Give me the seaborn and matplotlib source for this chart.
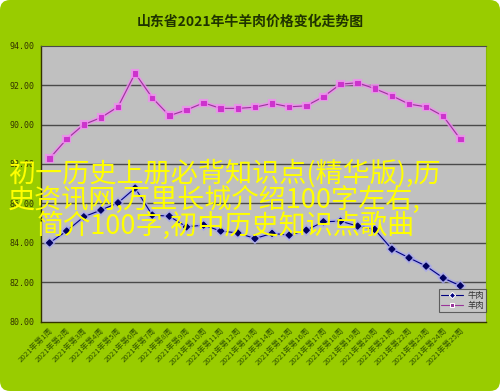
import matplotlib
matplotlib.use('Agg')
import matplotlib.pyplot as plt
import numpy as np
import pandas as pd
import seaborn as sns
from matplotlib import patheffects as pe
from matplotlib.patches import FancyBboxPatch

# ---- data ----
weeks = ["2021年第1周", "2021年第2周", "2021年第3周", "2021年第4周", "2021年第5周",
         "2021年第6周", "2021年第7周", "2021年第8周", "2021年第9周", "2021年第10周",
         "2021年第11周", "2021年第12周", "2021年第13周", "2021年第14周", "2021年第15周",
         "2021年第16周", "2021年第17周", "2021年第18周", "2021年第19周", "2021年第20周",
         "2021年第21周", "2021年第22周", "2021年第23周", "2021年第24周", "2021年第25周"]
beef = [84.00, 84.60, 85.32, 85.66, 86.03, 86.78, 85.41, 85.35, 84.81, 84.90,
        84.60, 84.50, 84.22, 84.48, 84.39, 84.64, 85.07, 85.10, 84.85, 84.68,
        83.68, 83.24, 82.82, 82.22, 81.82]
mutton = [88.28, 89.26, 90.00, 90.35, 90.90, 92.60, 91.36, 90.45, 90.74, 91.10,
          90.82, 90.82, 90.88, 91.07, 90.90, 90.95, 91.41, 92.05, 92.12, 91.82,
          91.46, 91.04, 90.90, 90.43, 89.26]
series_names = ["牛肉", "羊肉"]
yticks = [80, 82, 84, 86, 88, 90, 92, 94]
title = "山东省2021年牛羊肉价格变化走势图"
overlay_lines = ["初一历史上册必背知识点(精华版),历",
                 "史资讯网,万里长城介绍100字左右,",
                 "简介100字,初中历史知识点歌曲"]

df = pd.DataFrame({
    "idx": list(range(len(weeks))) * 2,
    "price": beef + mutton,
    "kind": [series_names[0]] * len(beef) + [series_names[1]] * len(mutton),
})

sns.set_style("white")
plt.rcParams['font.family'] = ['Noto Sans CJK SC', 'DejaVu Sans']

W, H = 500, 391
fig = plt.figure(figsize=(W / 100, H / 100), dpi=100)
fig.patch.set_facecolor("white")
bg = FancyBboxPatch((0, 0), 1, 1, boxstyle="round,pad=0,rounding_size=0.02",
                    transform=fig.transFigure, facecolor="#99cc00", edgecolor="none",
                    mutation_aspect=W / H, zorder=-10)
fig.patches.append(bg)

ax = fig.add_axes([41 / W, 1 - 321.7 / H, (486 - 41) / W, (321.7 - 45.7) / H])
ax.set_facecolor("#c0c0c0")

palette = {series_names[0]: "#000080", series_names[1]: "#993399"}
markers = {series_names[0]: "D", series_names[1]: "s"}
sns.lineplot(data=df, x="idx", y="price", hue="kind", style="kind",
             palette=palette, markers=markers, dashes=False, ax=ax,
             linewidth=0.8, markersize=3.2, legend=True)

glow = {series_names[0]: "#a8a8ee", series_names[1]: "#f08cf0"}
mfc = {series_names[0]: "#000060", series_names[1]: "#cc33cc"}
for line, name in zip(ax.lines[:2], series_names):
    line.set_path_effects([pe.Stroke(linewidth=3.0, foreground=glow[name], alpha=0.8), pe.Normal()])
    line.set_markerfacecolor(mfc[name])
    line.set_markeredgecolor(mfc[name])
    line.set_zorder(4)

ax.set_xlim(-0.5, 25.5)
ax.set_ylim(80, 94)
ax.set_yticks(yticks)
ax.set_yticklabels([f"{v:.2f}" for v in yticks], fontsize=6, color="#333300",
                   family="DejaVu Sans Mono")
ax.set_xticks(range(len(weeks)))
ax.set_xticklabels(weeks, rotation=45, ha="right", rotation_mode="anchor",
                   fontsize=5.6, color="#335500")
ax.set_xticks(np.arange(0.5, 25.6, 1.0), minor=True)
ax.tick_params(axis="x", which="major", length=0, pad=4)
ax.tick_params(axis="x", which="minor", length=3, direction="in", color="#222222", width=0.8)
ax.tick_params(axis="y", which="major", length=3, direction="in", color="#222222", pad=5)
ax.set_xlabel("")
ax.set_ylabel("")
for v in yticks[1:-1]:
    ax.axhline(v, color="#4a4a4a", linewidth=1.0, zorder=0.5)
for s in ["left", "bottom"]:
    ax.spines[s].set_color("#333300")
    ax.spines[s].set_linewidth(1.0)
ax.spines["top"].set_color("#4a4a4a")
ax.spines["right"].set_color("#88b800")

h, l = ax.get_legend_handles_labels()
leg = ax.legend(h, l, loc="lower right", bbox_to_anchor=(1.0, 0.035), fontsize=6,
                frameon=True, fancybox=False, facecolor="#c8c8c8", edgecolor="#444444",
                handlelength=2.6, borderpad=0.25, labelspacing=0.1, handletextpad=0.5,
                borderaxespad=0.0)
leg.get_frame().set_linewidth(0.8)
for t in leg.get_texts():
    t.set_color("#333333")

fig.text(0.5, 1 - 22 / H, title, ha="center", va="center", fontsize=10,
         fontweight="bold", color="#1f3300")

# overlay watermark text, drawn on top of the chart
for (xp, yp), txt in zip([(8, 173), (8, 200), (37, 226)], overlay_lines):
    fig.text(xp / W, 1 - yp / H, txt, ha="left", va="center",
             fontsize=19.5, color="#ffff00", zorder=10)

fig.savefig("out.png", dpi=100, facecolor=fig.get_facecolor())
